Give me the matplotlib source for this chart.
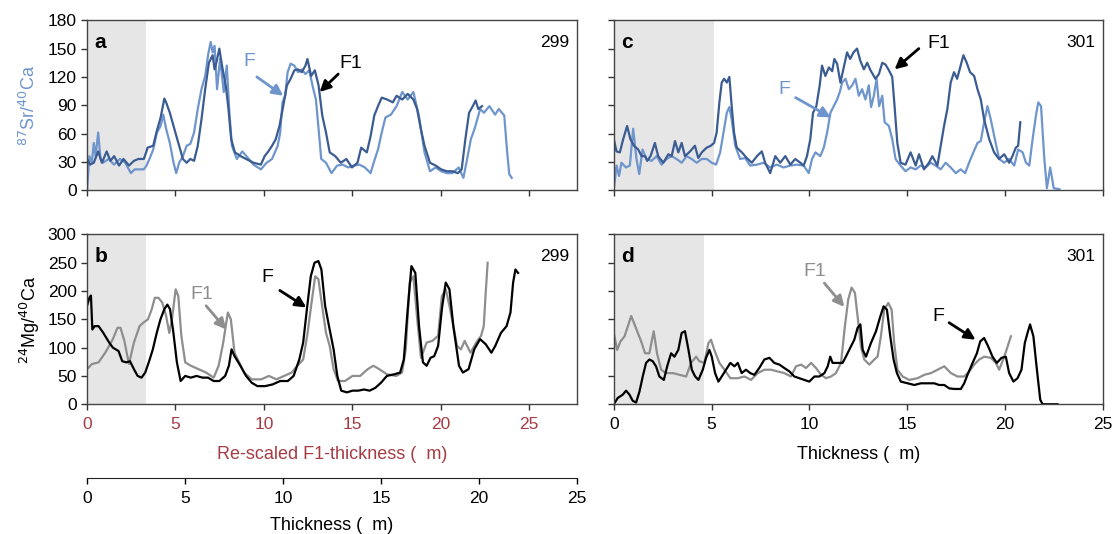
import matplotlib
matplotlib.use("Agg")
import matplotlib.pyplot as plt

plt.rcParams["font.family"] = ["Liberation Sans", "DejaVu Sans"]

# panel a: 87Sr/40Ca, section 299 (x = re-scaled F1 thickness)
a_f1_x = [0, 0.17, 0.38, 0.63, 0.84, 1.11, 1.32, 1.53, 1.81, 2.06, 2.37, 2.65, 2.90, 3.21, 3.36,
          3.42, 3.74, 3.95, 4.16, 4.37, 4.47, 4.68, 4.89, 5.10, 5.42, 5.63, 5.84, 6.05, 6.26, 6.47,
          6.68, 6.89, 7.10, 7.21, 7.31, 7.48, 7.63, 7.84, 7.98, 8.15, 8.36, 8.68, 8.99, 9.41, 9.83,
          10.04, 10.25, 10.46, 10.67, 10.88, 11.09, 11.30, 11.51, 11.72, 11.93, 12.14, 12.35, 12.46,
          12.67, 12.88, 13.09, 13.30, 13.51, 13.72, 14.03, 14.35, 14.66, 14.98, 15.29, 15.50, 15.82,
          16.03, 16.24, 16.45, 16.66, 16.97, 17.29, 17.50, 17.82, 18.13, 18.45, 18.66, 18.87, 19.08,
          19.39, 19.71, 20.02, 20.34, 20.65, 20.97, 21.18, 21.39, 21.60, 21.81, 21.97, 22.12, 22.33]
a_f1_y = [33, 27, 29, 41, 29, 41, 31, 36, 26, 33, 26, 31, 33, 33, 41,
          45, 47, 63, 77, 97, 93, 82, 68, 54, 33, 29, 33, 31, 47, 75,
          107, 135, 143, 128, 135, 150, 132, 111, 89, 54, 40, 36, 33, 29, 27,
          36, 41, 47, 54, 68, 89, 111, 118, 127, 128, 125, 132, 139,
          121, 127, 111, 79, 61, 40, 36, 29, 33, 24, 29, 45, 40,
          57, 79, 89, 98, 96, 93, 100, 96, 102, 96, 86, 65, 47,
          29, 26, 22, 20, 20, 18, 22, 54, 82, 89, 95, 86, 89]
a_f_x = [0, 0.13, 0.27, 0.38, 0.48, 0.63, 0.76, 0.90, 1.22, 1.53, 1.85, 2.16, 2.48, 2.69, 3.00,
         3.21, 3.36, 3.53, 3.74, 3.95, 4.16, 4.31, 4.47, 4.68, 4.89, 5.04, 5.21, 5.42, 5.63, 5.84,
         6.05, 6.26, 6.47, 6.68, 6.85, 6.99, 7.10, 7.21, 7.35, 7.52, 7.73, 7.90, 8.05, 8.19, 8.47,
         8.78, 9.10, 9.41, 9.83, 10.15, 10.46, 10.78, 10.92, 11.05, 11.20, 11.34, 11.51, 11.72,
         11.93, 12.14, 12.35, 12.56, 12.77, 12.94, 13.09, 13.24, 13.51, 13.82, 14.14, 14.45, 14.77,
         15.08, 15.40, 15.71, 16.03, 16.24, 16.45, 16.66, 16.87, 17.18, 17.50, 17.82, 18.13, 18.45,
         18.76, 19.08, 19.39, 19.71, 20.02, 20.34, 20.65, 21.01, 21.28, 21.49, 21.70, 21.91, 22.23,
         22.44, 22.75, 23.07, 23.28, 23.59, 23.74, 23.87, 24.01]
a_f_y = [0, 36, 29, 50, 36, 61, 33, 29, 33, 27, 33, 29, 18, 22, 22,
         22, 26, 33, 43, 61, 68, 80, 65, 50, 29, 18, 29, 36, 47, 49,
         61, 86, 107, 121, 144, 157, 146, 153, 107, 139, 104, 132, 82, 47, 33,
         41, 34, 27, 22, 29, 33, 47, 61, 93, 100, 125, 134, 132,
         125, 128, 123, 127, 109, 96, 65, 33, 29, 18, 26, 27, 24,
         26, 27, 24, 18, 31, 43, 61, 77, 80, 89, 104, 96, 104,
         79, 40, 20, 24, 20, 18, 18, 24, 13, 33, 54, 65, 86,
         82, 89, 80, 86, 79, 43, 17, 13]

# panel b: 24Mg/40Ca, section 299
b_f_x = [0, 0.13, 0.22, 0.30, 0.43, 0.65, 0.92, 1.25, 1.46, 1.78, 1.99, 2.22, 2.43, 2.65, 2.86,
         3.08, 3.29, 3.51, 3.72, 3.94, 4.15, 4.37, 4.54, 4.69, 4.86, 5.08, 5.29, 5.55, 5.87, 6.19,
         6.52, 6.84, 7.16, 7.48, 7.81, 8.02, 8.17, 8.34, 8.67, 8.99, 9.31, 9.63, 10.06, 10.49, 10.92,
         11.35, 11.68, 12.00, 12.22, 12.43, 12.65, 12.86, 13.08, 13.25, 13.46, 13.68, 13.94, 14.15,
         14.37, 14.69, 15.01, 15.33, 15.66, 15.98, 16.30, 16.62, 16.95, 17.38, 17.70, 17.91, 18.13,
         18.34, 18.56, 18.77, 18.99, 19.20, 19.42, 19.63, 19.85, 20.06, 20.28, 20.49, 20.71, 21.03,
         21.25, 21.57, 21.89, 22.22, 22.54, 22.86, 23.08, 23.40, 23.72, 23.94, 24.09, 24.22, 24.37]
b_f_y = [174, 188, 192, 132, 138, 138, 126, 109, 100, 94, 76, 74, 76, 62, 50,
         47, 56, 76, 97, 126, 150, 168, 176, 168, 132, 74, 41, 50, 47, 50,
         47, 47, 41, 41, 50, 68, 97, 85, 68, 50, 38, 32, 32, 35, 41,
         41, 50, 79, 109, 168, 226, 250, 253, 238, 174, 138, 97, 50,
         24, 21, 24, 24, 26, 24, 29, 38, 50, 53, 56, 79, 168,
         244, 232, 138, 74, 68, 82, 85, 103, 168, 215, 203, 138, 68,
         56, 62, 97, 115, 106, 91, 103, 126, 138, 162, 215, 238, 232]
b_f1_x = [0, 0.28, 0.65, 1.03, 1.46, 1.72, 1.89, 2.11, 2.37, 2.65, 2.97, 3.18, 3.44, 3.66, 3.83,
          4.04, 4.26, 4.47, 4.65, 4.80, 5.01, 5.16, 5.33, 5.55, 5.87, 6.30, 6.73, 7.16, 7.44, 7.70,
          7.96, 8.13, 8.34, 8.60, 8.88, 9.31, 9.85, 10.28, 10.71, 11.14, 11.57, 11.89, 12.22, 12.47,
          12.69, 12.90, 13.08, 13.29, 13.51, 13.72, 13.94, 14.19, 14.58, 15.01, 15.44, 15.87, 16.19,
          16.52, 16.95, 17.48, 17.81, 18.02, 18.24, 18.45, 18.67, 18.88, 19.20, 19.53, 19.85, 20.06,
          20.28, 20.49, 20.71, 20.92, 21.14, 21.35, 21.68, 22.00, 22.28, 22.43, 22.54, 22.65]
b_f1_y = [62, 71, 74, 91, 115, 135, 135, 112, 71, 109, 138, 144, 150, 168, 188,
          188, 179, 156, 126, 150, 203, 191, 121, 74, 68, 62, 56, 47, 68, 109,
          162, 150, 91, 74, 56, 44, 44, 50, 44, 50, 56, 68, 79, 126,
          179, 226, 221, 174, 126, 103, 62, 41, 41, 50, 50, 62, 68,
          62, 53, 50, 56, 97, 215, 226, 150, 82, 109, 112, 121, 191,
          203, 174, 138, 103, 97, 112, 91, 109, 121, 138, 197, 250]

# panel c: 87Sr/40Ca, section 301
c_f1_x = [0, 0.14, 0.31, 0.48, 0.68, 0.85, 1.03, 1.25, 1.42, 1.59, 1.71, 1.88, 2.10, 2.27, 2.53,
          2.79, 2.96, 3.13, 3.30, 3.47, 3.64, 3.90, 4.15, 4.32, 4.50, 4.75, 4.96, 5.13, 5.26, 5.40,
          5.52, 5.64, 5.78, 5.91, 6.03, 6.15, 6.29, 6.55, 6.80, 7.06, 7.32, 7.57, 7.74, 8.00, 8.26,
          8.51, 8.77, 9.03, 9.28, 9.54, 9.71, 9.88, 10.05, 10.19, 10.36, 10.53, 10.65, 10.82, 11.00,
          11.17, 11.28, 11.42, 11.59, 11.76, 11.93, 12.09, 12.26, 12.44, 12.61, 12.79, 12.96, 13.13,
          13.38, 13.56, 13.73, 13.90, 14.07, 14.24, 14.36, 14.50, 14.67, 14.92, 15.18, 15.44, 15.61,
          15.86, 16.12, 16.29, 16.55, 16.72, 16.89, 17.06, 17.23, 17.40, 17.56, 17.74, 17.88, 18.05,
          18.22, 18.43, 18.60, 18.77, 18.94, 19.20, 19.45, 19.70, 19.97, 20.22, 20.39, 20.56, 20.68,
          20.79]
c_f1_y = [54, 41, 40, 54, 68, 54, 47, 43, 36, 36, 31, 36, 50, 36, 29,
          38, 36, 52, 40, 50, 36, 41, 47, 34, 40, 45, 47, 50, 61, 93,
          114, 118, 114, 120, 89, 61, 45, 40, 34, 29, 36, 41, 29, 18, 36,
          29, 36, 27, 33, 29, 26, 36, 54, 82, 89, 111, 132, 121, 130,
          126, 139, 134, 114, 130, 146, 139, 146, 150, 137, 128, 135, 127,
          118, 123, 135, 133, 127, 120, 89, 50, 29, 27, 40, 26, 38,
          22, 29, 36, 26, 47, 68, 86, 114, 125, 118, 132, 143, 135,
          125, 121, 107, 96, 75, 54, 40, 33, 38, 29, 36, 45, 47,
          72]
c_f_x = [0, 0.14, 0.27, 0.39, 0.62, 0.82, 0.99, 1.16, 1.30, 1.47, 1.68, 1.93, 2.19, 2.44, 2.70,
         2.96, 3.21, 3.47, 3.73, 3.98, 4.24, 4.50, 4.75, 5.01, 5.23, 5.44, 5.61, 5.78, 5.91, 6.03,
         6.21, 6.46, 6.72, 6.97, 7.32, 7.66, 8.00, 8.34, 8.68, 9.03, 9.37, 9.71, 9.97, 10.14, 10.31,
         10.56, 10.74, 10.91, 11.08, 11.25, 11.42, 11.56, 11.68, 11.85, 12.02, 12.19, 12.36, 12.53,
         12.70, 12.87, 13.04, 13.16, 13.30, 13.44, 13.57, 13.73, 13.85, 14.07, 14.24, 14.41, 14.67,
         14.92, 15.18, 15.44, 15.69, 15.95, 16.21, 16.46, 16.72, 16.97, 17.23, 17.49, 17.74, 17.97,
         18.17, 18.39, 18.60, 18.77, 18.94, 19.11, 19.28, 19.49, 19.71, 19.97, 20.21, 20.48, 20.68,
         20.91, 21.08, 21.25, 21.42, 21.59, 21.71, 21.85, 22.02, 22.15, 22.32, 22.50, 22.79]
c_f_y = [1, 26, 15, 29, 24, 26, 65, 33, 17, 43, 33, 31, 36, 27, 33,
         36, 33, 29, 36, 33, 29, 33, 33, 29, 27, 40, 61, 82, 88, 75,
         47, 33, 34, 26, 27, 29, 24, 27, 24, 26, 27, 26, 18, 33, 40,
         36, 45, 61, 82, 89, 96, 104, 114, 118, 107, 111, 118, 100,
         107, 96, 111, 88, 100, 118, 89, 100, 72, 68, 54, 33, 26,
         20, 24, 22, 26, 24, 29, 26, 22, 29, 24, 18, 22, 18,
         29, 40, 50, 52, 72, 89, 75, 54, 33, 29, 33, 26, 43,
         40, 29, 26, 54, 79, 93, 89, 33, 2, 24, 2, 1]

# panel d: 24Mg/40Ca, section 301
d_f_x = [0, 0.20, 0.46, 0.63, 0.80, 0.97, 1.14, 1.31, 1.48, 1.65, 1.82, 1.99, 2.16, 2.33, 2.56,
         2.73, 2.93, 3.10, 3.30, 3.47, 3.64, 3.82, 3.99, 4.16, 4.33, 4.55, 4.72, 4.89, 5.01, 5.18,
         5.35, 5.52, 5.74, 5.96, 6.17, 6.34, 6.54, 6.76, 6.98, 7.19, 7.44, 7.70, 7.96, 8.21, 8.47,
         8.72, 8.98, 9.23, 9.49, 9.74, 10.00, 10.26, 10.51, 10.77, 10.94, 11.07, 11.19, 11.45, 11.70,
         11.87, 12.04, 12.30, 12.47, 12.61, 12.73, 12.90, 13.15, 13.41, 13.63, 13.80, 13.97, 14.14,
         14.31, 14.48, 14.68, 15.03, 15.37, 15.71, 16.05, 16.39, 16.64, 16.90, 17.16, 17.41, 17.75,
         17.92, 18.09, 18.35, 18.57, 18.74, 18.94, 19.15, 19.37, 19.59, 19.83, 20.05, 20.22, 20.44,
         20.65, 20.85, 21.02, 21.16, 21.29, 21.46, 21.64, 21.81, 21.93, 22.69]
d_f_y = [0, 11, 17, 24, 17, 6, 3, 22, 49, 73, 79, 76, 67, 49, 43,
         67, 90, 84, 96, 126, 129, 96, 61, 49, 43, 61, 82, 96, 84, 55,
         40, 49, 61, 73, 67, 73, 55, 61, 55, 52, 64, 79, 82, 73, 70,
         64, 58, 49, 46, 43, 40, 49, 49, 55, 67, 84, 73, 73, 73,
         84, 96, 114, 135, 141, 96, 84, 108, 129, 155, 173, 167, 120,
         79, 55, 40, 37, 34, 37, 37, 37, 34, 34, 28, 27, 27,
         37, 52, 73, 90, 111, 117, 102, 84, 73, 82, 84, 55, 40,
         46, 61, 108, 126, 141, 120, 61, 8, 0, 0]
d_f1_x = [0, 0.17, 0.34, 0.55, 0.75, 0.89, 1.06, 1.23, 1.40, 1.60, 1.82, 2.04, 2.21, 2.42, 2.67,
          3.02, 3.36, 3.70, 3.95, 4.21, 4.38, 4.63, 4.84, 4.97, 5.14, 5.40, 5.66, 5.96, 6.34, 6.68,
          7.02, 7.36, 7.70, 8.04, 8.38, 8.72, 9.06, 9.32, 9.58, 9.83, 10.09, 10.34, 10.60, 10.85,
          11.11, 11.36, 11.62, 11.82, 11.99, 12.16, 12.33, 12.47, 12.64, 12.81, 13.07, 13.32, 13.49,
          13.66, 13.83, 14.04, 14.21, 14.34, 14.51, 14.77, 15.11, 15.54, 15.88, 16.22, 16.56, 16.90,
          17.24, 17.58, 17.92, 18.18, 18.43, 18.69, 18.94, 19.28, 19.54, 19.71, 19.97, 20.14, 20.31]
d_f1_y = [126, 96, 111, 120, 141, 156, 141, 126, 111, 90, 90, 129, 90, 61, 55,
          55, 52, 49, 73, 84, 76, 73, 108, 114, 96, 73, 61, 46, 46, 49,
          43, 55, 61, 61, 58, 55, 49, 67, 70, 64, 73, 64, 52, 46,
          49, 55, 73, 138, 185, 206, 197, 155, 102, 79, 70, 79, 84,
          120, 167, 179, 167, 108, 61, 49, 43, 46, 52, 55, 61, 67,
          55, 49, 49, 58, 70, 79, 84, 82, 73, 61, 84, 102, 120]

sr_ticks = [0, 30, 60, 90, 120, 150, 180]
mg_ticks = [0, 50, 100, 150, 200, 250, 300]
x_ticks = [0, 5, 10, 15, 20, 25]
rescaled_max = 27.7   # re-scaled F1 axis end; thickness axis 0-25 spans the same width

DARK = "#3b5c92"
LIGHT = "#6f95cd"
GREY = "#8e8e8e"
RED = "#a63b43"
SHADE = "#e6e6e6"

fig = plt.figure(figsize=(11.16, 5.34), dpi=100)
ax_a = fig.add_axes([0.078, 0.644, 0.439, 0.318])
ax_b = fig.add_axes([0.078, 0.243, 0.439, 0.318])
ax_c = fig.add_axes([0.550, 0.644, 0.438, 0.318])
ax_d = fig.add_axes([0.550, 0.243, 0.438, 0.318])


def style(ax, xmax, yticks, shade_end, letter, section):
    ax.axvspan(0, shade_end, color=SHADE, lw=0, zorder=0)
    ax.set_xlim(0, xmax)
    ax.set_ylim(yticks[0], yticks[-1])
    ax.set_xticks(x_ticks)
    ax.set_yticks(yticks)
    ax.tick_params(direction="out", length=4, width=1, labelsize=12.5, color="#333333")
    ax.tick_params(axis="x", pad=5)
    for sp in ax.spines.values():
        sp.set_color("#444444")
        sp.set_linewidth(1)
    ax.text(0.015, 0.87, letter, transform=ax.transAxes, fontsize=15,
            fontweight="bold", va="center", ha="left")
    ax.text(0.985, 0.87, section, transform=ax.transAxes, fontsize=12.5,
            va="center", ha="right")


def arrow(ax, label, text_xy, tail, head, color):
    ax.text(text_xy[0], text_xy[1], label, color=color, fontsize=14, ha="center", va="center")
    ax.annotate("", xy=head, xytext=tail,
                arrowprops=dict(arrowstyle="-|>", color=color, lw=2, mutation_scale=16,
                                shrinkA=0, shrinkB=0))


# a
style(ax_a, rescaled_max, sr_ticks, 3.35, "a", "299")
ax_a.plot(a_f_x, a_f_y, color=LIGHT, lw=1.6)
ax_a.plot(a_f1_x, a_f1_y, color=DARK, lw=1.6)
ax_a.set_xticklabels([])
ax_a.set_ylabel(r"$^{87}$Sr/$^{40}$Ca", color=LIGHT, fontsize=13, labelpad=6)
arrow(ax_a, "F", (9.2, 136), (9.6, 120), (11.1, 100), LIGHT)
arrow(ax_a, "F1", (14.9, 134), (14.2, 123), (13.15, 104), "black")

# b
style(ax_b, rescaled_max, mg_ticks, 3.35, "b", "299")
ax_b.plot(b_f1_x, b_f1_y, color=GREY, lw=1.6)
ax_b.plot(b_f_x, b_f_y, color="black", lw=1.6)
ax_b.set_ylabel(r"$^{24}$Mg/$^{40}$Ca", fontsize=13, labelpad=4)
ax_b.tick_params(axis="x", labelcolor=RED)
ax_b.set_xlabel("Re-scaled F1-thickness (  m)", color=RED, fontsize=13, labelpad=10)
arrow(ax_b, "F1", (6.5, 194), (6.73, 174), (7.87, 132), GREY)
arrow(ax_b, "F", (10.2, 224), (10.9, 201), (12.4, 171), "black")

scale = rescaled_max / 25
sec = ax_b.secondary_xaxis(-0.435, functions=(lambda x: x / scale, lambda x: x * scale))
sec.set_xticks(x_ticks)
sec.tick_params(direction="out", length=4, width=1, labelsize=12.5, pad=5)
sec.spines["bottom"].set_color("#222222")
sec.set_xlabel("Thickness (  m)", fontsize=13, labelpad=8)

# c
style(ax_c, 25, sr_ticks, 5.1, "c", "301")
ax_c.plot(c_f_x, c_f_y, color=LIGHT, lw=1.6)
ax_c.plot(c_f1_x, c_f1_y, color=DARK, lw=1.6)
ax_c.set_xticklabels([])
ax_c.set_yticklabels([])
arrow(ax_c, "F1", (16.6, 155), (15.6, 150), (14.36, 128), "black")
arrow(ax_c, "F", (8.7, 107), (9.3, 98), (11.1, 77), LIGHT)

# d
style(ax_d, 25, mg_ticks, 4.6, "d", "301")
ax_d.plot(d_f1_x, d_f1_y, color=GREY, lw=1.6)
ax_d.plot(d_f_x, d_f_y, color="black", lw=1.6)
ax_d.set_yticklabels([])
ax_d.set_xlabel("Thickness (  m)", fontsize=13, labelpad=10)
arrow(ax_d, "F1", (10.3, 235), (10.77, 214), (11.79, 172), GREY)
arrow(ax_d, "F", (16.6, 155), (17.15, 144), (18.5, 114), "black")

fig.savefig("out.png", dpi=100)
